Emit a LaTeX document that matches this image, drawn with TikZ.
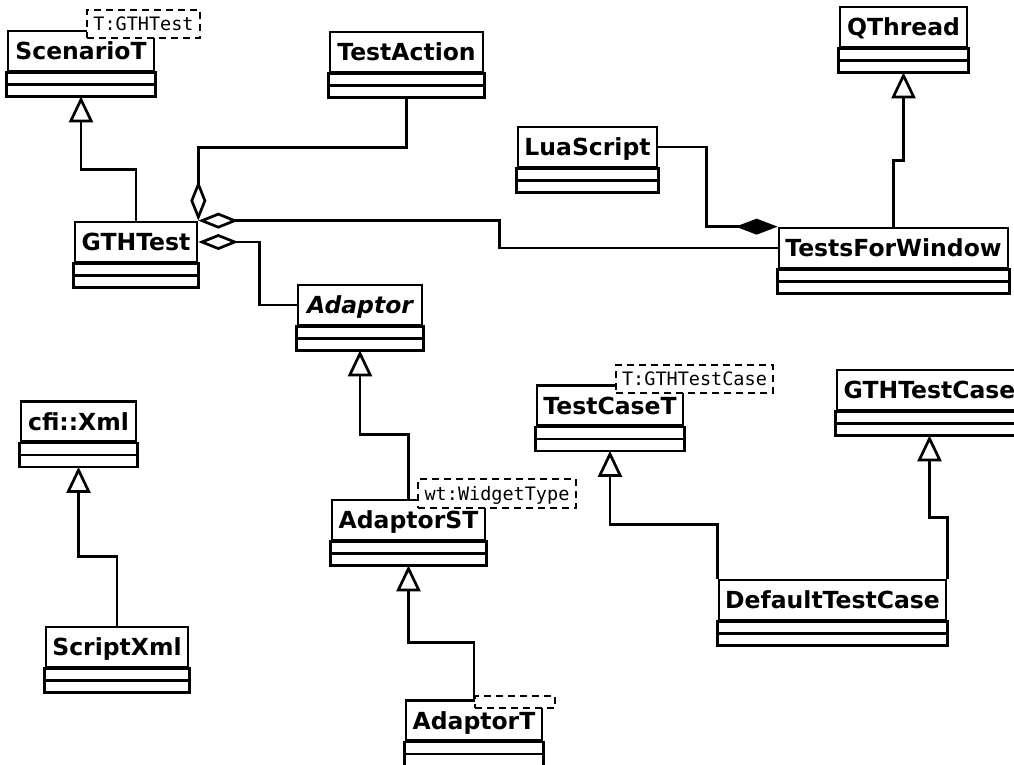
\documentclass[tikz,border=0pt]{standalone}
\usepackage{fontspec}
\setmainfont{DejaVu Sans}
\setmonofont{DejaVu Sans Mono}
\usetikzlibrary{arrows.meta}

\begin{document}
\begin{tikzpicture}[
  x=1pt, y=-1pt,
  line width=2.7pt,
  class/.style={rectangle, draw, inner sep=0pt, minimum height=40pt, text height=17pt, text depth=0pt, font=\fontsize{23.5}{28}\selectfont\bfseries},
  tmpl/.style={rectangle, draw, dash pattern=on 7pt off 5pt, fill=white, inner sep=0pt, text height=13pt, text depth=0pt, font=\fontsize{18.5}{22}\selectfont\ttfamily},
  gen/.style={-{Triangle[open, length=26pt, width=24pt, fill=white]}},
  agg/.style={{Diamond[open, length=40pt, width=16pt, fill=white]}-},
  comp/.style={{Diamond[length=42pt, width=16pt]}-}
]
\useasboundingbox (0,0) rectangle (1014,764);

% Classes
\node[class, minimum width=146pt] (scen) at (81,51) {ScenarioT};
\node[class, minimum width=153pt] (act) at (406.5,52) {TestAction};
\node[class, minimum width=122pt] (gth) at (136,242) {GTHTest};
\node[class, minimum width=139pt] (lua) at (587.5,147) {LuaScript};
\node[class, minimum width=127pt] (qth) at (903.5,27) {QThread};
\node[class, minimum width=229pt] (tfw) at (893.5,248) {TestsForWindow};
\node[class, minimum width=124pt] (adp) at (360,305) {\itshape Adaptor};
\node[class, minimum width=153pt] (ast) at (408.5,520) {AdaptorST};
\node[class, minimum width=136pt] (at) at (474,720.5) {AdaptorT};
\node[class, minimum width=146pt] (tct) at (610,405.5) {TestCaseT};
\node[class, minimum width=185pt] (gtc) at (929.5,390) {GTHTestCase};
\node[class, minimum width=227pt] (dtc) at (832.5,600) {DefaultTestCase};
\node[class, minimum width=115pt] (xml) at (78.5,421.5) {cfi::Xml};
\node[class, minimum width=142pt] (sxml) at (117,647) {ScriptXml};

% Compartments
\foreach \c in {scen,act,gth,lua,qth,tfw,adp,ast,at,tct,gtc,dtc,xml,sxml} {
  \draw (\c.south west) rectangle ([yshift=-24pt]\c.south east);
  \draw ([yshift=-12pt]\c.south west) -- ([yshift=-12pt]\c.south east);
}

% Relations
\draw[gen] (gth.north) -- ++(0,-51) -| ([yshift=-24pt]scen.south);
\draw[agg] (gth.north east) -- ++(0,-73) -| ([yshift=-24pt]act.south);
\draw[agg] (gth.north east) -- ++(301,0) |- (tfw.west);
\draw[agg] (gth.east) -- ++(61,0) |- (adp.west);
\draw[comp] (tfw.north west) -- ++(-71,0) |- (lua.east);
\draw[gen] (tfw.north) -- ++(0,-66) -| ([yshift=-24pt]qth.south);
\draw[gen] (ast.north) -- ++(0,-64) -| ([yshift=-24pt]adp.south);
\draw[gen] (at.north) -- ++(0,-57) -| ([yshift=-24pt]ast.south);
\draw[gen] (dtc.north west) -- ++(0,-54) -| ([yshift=-24pt]tct.south);
\draw[gen] (dtc.north east) -- ++(0,-61) -| ([yshift=-24pt]gtc.south);
\draw[gen] (sxml.north) -- ++(0,-69) -| ([yshift=-24pt]xml.south);

% Template parameters
\node[tmpl, minimum width=113pt, minimum height=28pt] (scenT) at (143.5,24) {T:GTHTest};
\node[tmpl, minimum width=158pt, minimum height=29pt] (astT) at (497,493.5) {wt:WidgetType};
\node[tmpl, minimum width=157pt, minimum height=28pt] (tctT) at (694.5,379) {T:GTHTestCase};
\node[tmpl, minimum width=80pt, minimum height=12pt, text height=0pt] (atT) at (515,702) {};
\end{tikzpicture}
\end{document}
